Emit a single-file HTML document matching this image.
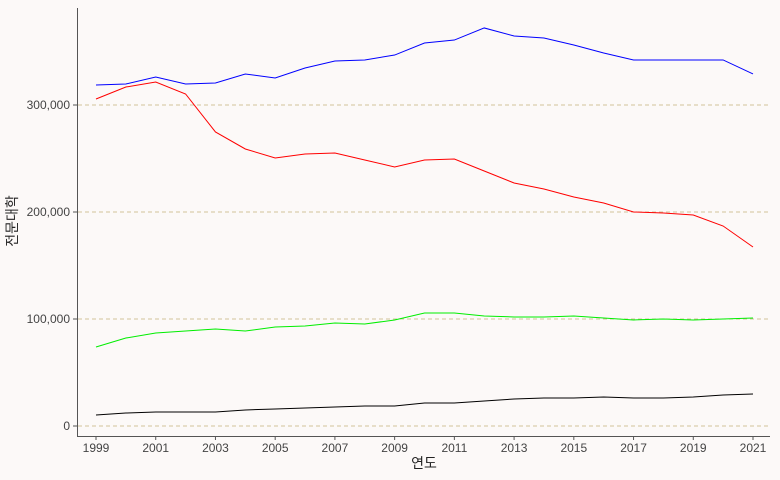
<!DOCTYPE html>
<html><head><meta charset="utf-8"><style>
body{margin:0;background:#fcf9f8;}
svg{display:block;font-family:"Liberation Sans","Noto Sans CJK KR",sans-serif;}
</style></head><body>
<svg id="chart" width="780" height="480">
<rect width="780" height="480" fill="#fcf9f8"/>
<g id="grid"></g><g id="axes"></g><g id="series"></g>
<text x="424" y="468" text-anchor="middle" font-size="14" fill="#222">연도</text>
<text transform="translate(17,221) rotate(-90)" text-anchor="middle" font-size="14" fill="#222">전문대학</text>
</svg>
<script>
const years=[1999,2000,2001,2002,2003,2004,2005,2006,2007,2008,2009,2010,2011,2012,2013,2014,2015,2016,2017,2018,2019,2020,2021];
const blueValues=[318700,319600,326200,319600,320600,329000,325200,334600,341100,342100,346700,357900,360700,372000,364500,362600,356100,348600,342100,342100,342100,342100,329000];
const redValues=[305600,316800,321500,310300,274800,258900,250500,254200,255100,248600,242100,248600,249500,238300,227100,221500,214000,208400,200000,199100,197200,186900,167300];
const greenValues=[73800,82200,86900,88800,90700,88800,92500,93500,96300,95300,99100,105600,105600,102800,101900,101900,102800,100900,99100,100000,99100,100000,100900];
const blackValues=[10300,12100,13100,13100,13100,15000,15900,16800,17800,18700,18700,21500,21500,23400,25200,26200,26200,27100,26200,26200,27100,29000,29900];
const yTicks=[0,100000,200000,300000];
const xTicks=[1999,2001,2003,2005,2007,2009,2011,2013,2015,2017,2019,2021];
const NS="http://www.w3.org/2000/svg";
const x=v=>96+(v-1999)*(753-96)/22;
const y=v=>426-v*107/100000;
function mk(t,a,p){const e=document.createElementNS(NS,t);for(const k in a)e.setAttribute(k,a[k]);p.appendChild(e);return e;}
const grid=document.getElementById('grid'),axes=document.getElementById('axes'),ser=document.getElementById('series');
yTicks.forEach(t=>{
 const l=mk('line',{x1:78,x2:770,y1:y(t),y2:y(t),stroke:'#d2c29a','stroke-dasharray':'4,3','stroke-width':1},grid);
 
 
 const tk=mk('line',{x1:73,x2:77,y1:y(t),y2:y(t),stroke:'#555'},axes);
 
 
 const tx=mk('text',{x:70,y:y(t)+4,'text-anchor':'end','font-size':12,fill:'#444'},axes);
 tx.textContent=t.toLocaleString('en-US');
 
 
});
xTicks.forEach(t=>{
 const tk=mk('line',{x1:x(t),x2:x(t),y1:436,y2:440,stroke:'#555'},axes);
 
 
 const tx=mk('text',{x:x(t),y:452,'text-anchor':'middle','font-size':12,fill:'#444'},axes);
 tx.textContent=t;
 
 
});
const ya=mk('line',{x1:77.5,x2:77.5,y1:8,y2:436,stroke:'#555'},axes);


const xa=mk('line',{x1:77,x2:770,y1:436.5,y2:436.5,stroke:'#555'},axes);


[[blueValues,'#0000ff','series-blue'],[redValues,'#ff0000','series-red'],[greenValues,'#00ee00','series-green'],[blackValues,'#000000','series-black']].forEach(([vals,c,n])=>{
 const p=mk('polyline',{points:vals.map((v,i)=>x(years[i])+','+y(v)).join(' '),fill:'none',stroke:c,'stroke-width':1},ser);
 
 
});
</script>
</body></html>
